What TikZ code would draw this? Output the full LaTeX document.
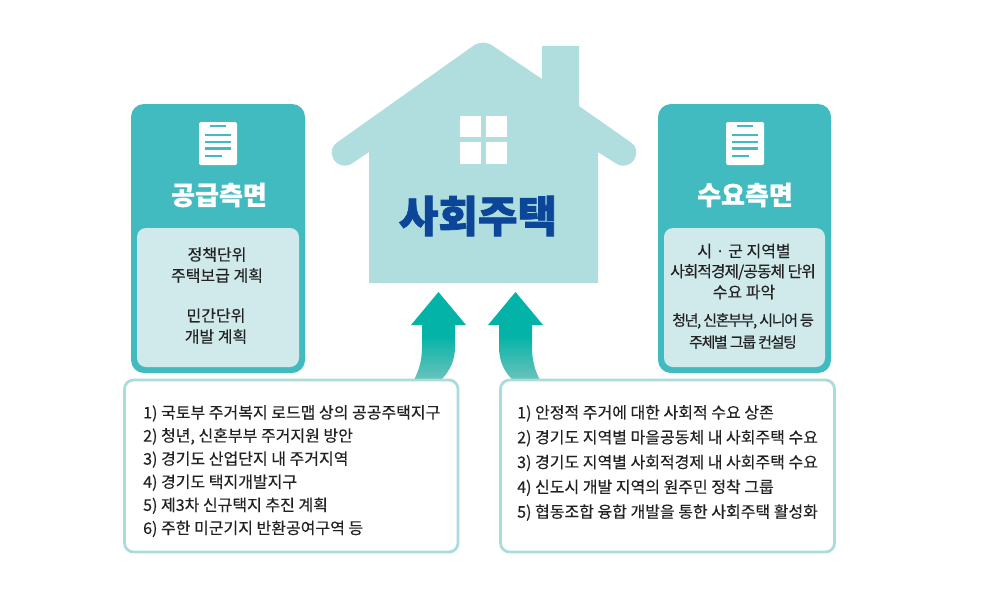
\documentclass[tikz,border=0pt]{standalone}
\usepackage{fontspec}
\setmainfont{Noto Sans CJK KR}[FakeBold=0.25]
\newfontfamily\krheavy{Noto Sans CJK KR}[BoldFeatures={FakeBold=1.8}]
\newfontfamily\krhead{Noto Sans CJK KR}[BoldFeatures={FakeBold=0.8}]
\newfontfamily\krtightA{Noto Sans CJK KR}[LetterSpace=-6,FakeBold=0.25]
\newfontfamily\krtightB{Noto Sans CJK KR}[LetterSpace=-9,FakeBold=0.25]
\definecolor{teal1}{HTML}{41BAC0}
\definecolor{pale}{HTML}{D0EAEB}
\definecolor{house}{HTML}{B0DEDF}
\definecolor{edgec}{HTML}{A9DCDB}
\definecolor{navy}{HTML}{0B4699}
\definecolor{arrowtop}{HTML}{04B3A8}
\definecolor{arrowbot}{HTML}{6AC3BB}
\definecolor{ink}{HTML}{222222}
\tikzset{x=1pt,y=-1pt,
 card/.style={fill=teal1,draw=none,rounded corners=13pt},
 inner/.style={fill=pale,draw=none,rounded corners=9pt},
 listbox/.style={draw=edgec,line width=2.8pt,fill=white,rounded corners=9pt},
 head/.style={font=\krhead\fontsize{26}{30}\selectfont\bfseries,text=white,anchor=center,inner sep=0pt},
 body/.style={font=\fontsize{16}{21}\selectfont,text=ink,align=center,anchor=center,inner sep=0pt},
 listt/.style={text=ink,align=left,anchor=north west,inner sep=0pt},
 upa/.style={draw=none,top color=arrowtop,bottom color=arrowbot,middle color=arrowtop}
}
\newcommand{\clipicon}[1]{%
 \fill[white,rounded corners=1.5pt] (#1-19,122) rectangle (#1+19,165);
 \fill[teal1] (#1-8.5,125.2) rectangle (#1+8,127.2);
 \foreach \yy/\w in {135/26,142/26,148.5/26,156/17}{\fill[teal1] (#1-13,\yy-1.3) rectangle (#1-13+\w,\yy+1.3);}
}
\begin{document}
\begin{tikzpicture}
\useasboundingbox (0,0) rectangle (1000,590);
\fill[white] (0,0) rectangle (1000,590);
% arrows
\shade[upa]
 (438.5,292) -- (466,325) -- (455,325) -- (455,347) .. controls (455,360) and (450,371) .. (441,380) -- (414,380) .. controls (418,372) and (422,362) .. (422,347) -- (422,325) -- (411,325) -- cycle;
\shade[upa]
 (515.5,292) -- (543,325) -- (532,325) -- (532,347) .. controls (532,360) and (535,371) .. (540,380) -- (513,380) .. controls (505,373) and (499,362) .. (499,347) -- (499,325) -- (488,325) -- cycle;
% house
\fill[house] (369,283) -- (369,152) -- (352,163.5) .. controls (345,168) and (336,165) .. (333,158) .. controls (330,152) and (332,146) .. (337,142.5)
 -- (473,46) .. controls (479,41.5) and (487,41.5) .. (493,46) -- (542,79) -- (542,46) -- (579,46) -- (579,106) -- (631,142.5)
 .. controls (636,146) and (638,152) .. (635,158) .. controls (632,165) and (623,168) .. (616,163.5) -- (598,152) -- (598,283) -- cycle;
\foreach \a/\b in {460/481,486/507}{\foreach \c/\d in {116/137,142/164}{\fill[white] (\a,\c) rectangle (\b,\d);}}
\node[font=\krheavy\fontsize{43}{48}\selectfont\bfseries,text=navy,inner sep=0pt] (title) at (478,216) {사회주택};
% left card
\fill[card] (131,104) rectangle (305,373);
\fill[inner] (137,228) rectangle (299,367);
\clipicon{218}
\node[head] (l) at (219,195) {공급측면};
\node[body] (l1) at (217,265) {정책단위\\주택보급 계획};
\node[body] (l2) at (216,326) {민간단위\\개발 계획};
% right card
\fill[card] (658,104) rectangle (831,373);
\fill[inner] (664,228) rectangle (825,367);
\clipicon{745}
\node[head] (r) at (745,195) {수요측면};
\node[body] (r1) at (744,251) {시 · 군 지역별};
\node[body,font=\krtightA\fontsize{15.8}{21}\selectfont] (r2) at (743,272) {사회적경제/공동체 단위};
\node[body] (r3) at (744,292) {수요 파악};
\node[body,font=\krtightB\fontsize{15}{22}\selectfont] (r4) at (743,331) {청년, 신혼부부, 시니어 등\\주체별 그룹 컨설팅};
% list boxes
\draw[listbox] (124.5,380) rectangle (458,552);
\draw[listbox] (500.5,380) rectangle (834.5,552);
\node[listt,font=\fontsize{16}{23.1}\selectfont] (ll) at (143,405) {1) 국토부 주거복지 로드맵 상의 공공주택지구\\2) 청년, 신혼부부 주거지원 방안\\3) 경기도 산업단지 내 주거지역\\4) 경기도 택지개발지구\\5) 제3차 신규택지 추진 계획\\6) 주한 미군기지 반환공여구역 등};
\node[listt,font=\fontsize{16}{24.8}\selectfont] (rl) at (517,405) {1) 안정적 주거에 대한 사회적 수요 상존\\2) 경기도 지역별 마을공동체 내 사회주택 수요\\3) 경기도 지역별 사회적경제 내 사회주택 수요\\4) 신도시 개발 지역의 원주민 정착 그룹\\5) 협동조합 융합 개발을 통한 사회주택 활성화};
\end{tikzpicture}
\end{document}
